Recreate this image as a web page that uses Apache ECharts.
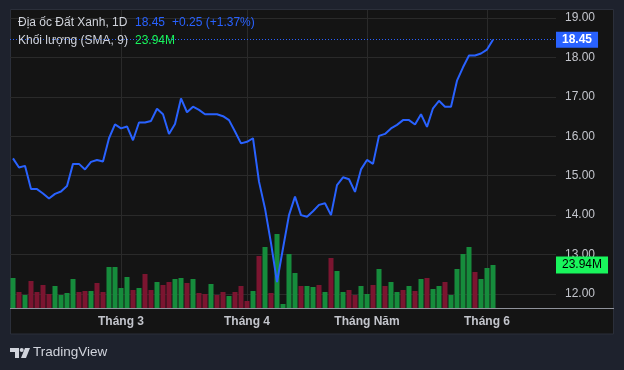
<!DOCTYPE html>
<html><head><meta charset="utf-8">
<script src="https://cdn.jsdelivr.net/npm/echarts@6/dist/echarts.min.js"></script>
<style>html,body{margin:0;padding:0;background:#1e222d;}#c{width:624px;height:370px;}</style>
</head><body><div id="c"></div>
<script>
const symbolName = 'Địa ốc Đất Xanh, 1D';
const volumeName = 'Khối lượng (SMA, 9)';
const prices = [15.44,15.21,15.25,14.66,14.66,14.55,14.42,14.54,14.60,14.74,
  15.30,15.30,15.16,15.35,15.40,15.36,15.95,16.30,16.20,16.25,
  15.90,16.35,16.35,16.39,16.70,16.56,16.06,16.31,16.96,16.61,
  16.75,16.67,16.56,16.56,16.56,16.51,16.41,16.12,15.82,15.86,
  15.95,14.85,14.17,13.29,12.30,13.16,14.00,14.47,14.00,13.96,
  14.10,14.26,14.30,14.00,14.76,14.96,14.91,14.59,15.16,15.40,
  15.30,16.01,16.06,16.20,16.29,16.41,16.41,16.30,16.56,16.24,
  16.71,16.90,16.75,16.75,17.41,17.75,18.05,18.05,18.10,18.20,18.45];
const volumes = [16.70,8.91,7.24,15.03,8.91,12.80,7.79,12.25,7.24,8.35,
  16.14,8.91,9.46,9.46,13.92,8.91,22.82,22.82,11.13,17.26,
  10.02,11.13,18.93,10.02,14.47,12.80,14.47,16.14,16.70,13.92,
  16.14,8.35,7.79,13.36,7.24,8.91,6.68,8.91,12.25,3.90,
  9.46,28.95,33.96,8.35,41.20,2.23,30.06,19.48,12.25,12.25,
  11.69,12.80,8.91,27.84,20.60,8.91,10.02,7.24,12.25,7.79,
  12.80,21.71,12.25,14.47,8.91,10.02,12.25,9.46,16.14,16.70,
  10.58,12.25,14.47,7.24,21.71,30.06,33.96,20.04,16.14,22.27,23.94];
const volumeUp = [1,0,1,0,0,0,0,1,1,1,
  1,0,0,1,0,0,1,1,1,1,
  0,1,0,0,1,0,0,1,1,0,
  1,0,0,1,0,0,1,0,0,0,
  1,0,1,0,1,1,1,1,0,1,
  1,0,1,0,1,1,0,0,1,1,
  0,1,0,1,1,0,1,0,1,0,
  1,1,0,1,1,1,1,0,1,1,1];
const tickIndex = [18,39,59,79];
const tickLabels = ['Tháng 3','Tháng 4','Tháng Năm','Tháng 6'];
const slotCount = 91;

const BLUE = '#2962ff', GREEN_TXT = '#19f55c';
const UP = '#168c3c', DOWN = '#7b1530';
const FONT = '"Liberation Sans", Arial, sans-serif';
const categories = Array.from({length: slotCount}, (_, i) => String(i));
const lastPrice = prices[prices.length - 1];
const prevPrice = prices[prices.length - 2];
const chg = lastPrice - prevPrice;
const chgPct = chg / prevPrice * 100;
const lastVol = volumes[volumes.length - 1];
const volData = volumes.map((v, i) => ({value: v, itemStyle: {color: volumeUp[i] ? UP : DOWN}}));

const chart = echarts.init(document.getElementById('c'), null, {renderer: 'canvas'});
chart.setOption({
  backgroundColor: '#1e222d',
  animation: false,
  textStyle: {fontFamily: FONT},
  grid: [
    {left: 10, right: 68, top: 18, bottom: 76},
    {left: 10, right: 68, top: 10, bottom: 62}
  ],
  xAxis: [
    {type: 'category', gridIndex: 0, data: categories, show: false, boundaryGap: true},
    {type: 'category', gridIndex: 1, data: categories, boundaryGap: true,
      axisLine: {show: false}, axisTick: {show: false},
      axisLabel: {
        interval: (i) => tickIndex.includes(i),
        formatter: (v, i) => { const k = tickIndex.indexOf(Number(v)); return k >= 0 ? tickLabels[k] : ''; },
        color: '#c3c5cc', fontSize: 12, fontWeight: 'bold', margin: 8, fontFamily: FONT
      },
      splitLine: {show: true, alignWithLabel: true, interval: (i) => tickIndex.includes(i),
        lineStyle: {color: '#2a2a2a', width: 1}}
    }
  ],
  yAxis: [
    {type: 'value', gridIndex: 0, position: 'right', min: 12, max: 19, interval: 1,
      axisLine: {show: false}, axisTick: {show: false},
      axisLabel: {color: '#c3c5cc', fontSize: 12, margin: 9, formatter: (v) => v.toFixed(2), fontFamily: FONT},
      splitLine: {show: true, lineStyle: {color: '#2a2a2a', width: 1}}
    },
    {type: 'value', gridIndex: 1, min: 0, max: 165.9, show: false, splitLine: {show: false}}
  ],
  graphic: [
    {type: 'rect', z: -10, shape: {x: 10.5, y: 9.5, width: 603, height: 324.5},
      style: {fill: '#141414', stroke: '#2b2f3a', lineWidth: 1}},
    {type: 'line', z: 10, shape: {x1: 10, y1: 308.5, x2: 614, y2: 308.5},
      style: {stroke: '#8f929b', lineWidth: 1}},
    {type: 'text', left: 18, top: 17, z: 10, style: {text: symbolName, fill: '#d1d4dc', font: '12px ' + FONT}},
    {type: 'text', left: 135, top: 17, z: 10, style: {text: lastPrice.toFixed(2), fill: BLUE, font: '12px ' + FONT}},
    {type: 'text', left: 172, top: 17, z: 10, style: {text: (chg >= 0 ? '+' : '') + chg.toFixed(2) + ' (' + (chg >= 0 ? '+' : '') + chgPct.toFixed(2) + '%)', fill: BLUE, font: '12px ' + FONT}},
    {type: 'text', left: 18, top: 35, z: 10, style: {text: volumeName, fill: '#d1d4dc', font: '12px ' + FONT}},
    {type: 'text', left: 135, top: 35, z: 10, style: {text: lastVol.toFixed(2) + 'M', fill: GREEN_TXT, font: '12px ' + FONT}},
    {type: 'polygon', z: 10, shape: {points: [[10,348],[19,348],[19,358],[15,358],[15,352],[10,352]]}, style: {fill: '#d1d4dc'}},
    {type: 'circle', z: 10, shape: {cx: 21.7, cy: 350, r: 2}, style: {fill: '#d1d4dc'}},
    {type: 'polygon', z: 10, shape: {points: [[25,348],[30,348],[26,358],[21,358]]}, style: {fill: '#d1d4dc'}},
    {type: 'text', left: 33, top: 345, z: 10, style: {text: 'TradingView', fill: '#d1d4dc', font: '13.5px ' + FONT}}
  ],
  series: [
    {type: 'bar', name: 'volume', xAxisIndex: 1, yAxisIndex: 1, data: volData, barWidth: 5,
      markLine: {silent: true, symbol: ['none', 'none'],
        lineStyle: {color: 'rgba(0,0,0,0)', width: 1, type: 'solid'},
        label: {show: true, position: 'end', distance: 0, formatter: () => lastVol.toFixed(2) + 'M',
          backgroundColor: GREEN_TXT, color: '#000', padding: [3, 6, 2, 6], fontSize: 12, fontFamily: FONT},
        data: [{yAxis: lastVol}]
      }
    },
    {type: 'line', name: 'price', xAxisIndex: 0, yAxisIndex: 0, data: prices, symbol: 'none',
      lineStyle: {color: BLUE, width: 2}, clip: false,
      markLine: {silent: true, symbol: ['none', 'none'],
        lineStyle: {color: BLUE, type: [1, 2], width: 1},
        label: {show: true, position: 'end', distance: 0, formatter: () => lastPrice.toFixed(2),
          backgroundColor: BLUE, color: '#fff', padding: [2, 6, 2, 6], fontSize: 12, fontWeight: 'bold', fontFamily: FONT},
        data: [{yAxis: lastPrice}]
      }
    }
  ]
});
</script></body></html>
